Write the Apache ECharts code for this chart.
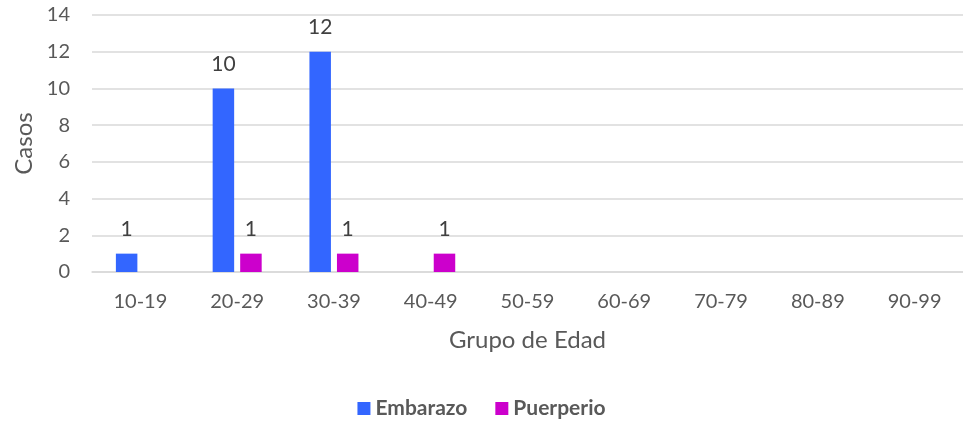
<!DOCTYPE html>
<html>
<head>
<meta charset="utf-8">
<script src="https://cdn.jsdelivr.net/npm/echarts@6/dist/echarts.min.js"></script>
<style>
  html, body { margin: 0; padding: 0; background: #fff; }
  #chart { width: 963px; height: 427px; }
</style>
</head>
<body>
<div id="chart"></div>
<script>
  // grupos de edad y casos por serie
  var grupos = ['10-19', '20-29', '30-39', '40-49', '50-59', '60-69', '70-79', '80-89', '90-99'];
  var embarazo = [1, 10, 12, 0, 0, 0, 0, 0, 0];
  var puerperio = [0, 1, 1, 1, 0, 0, 0, 0, 0];
  var yTicks = [0, 2, 4, 6, 8, 10, 12, 14];

  var font = 'Lato, "Open Sans", sans-serif';
  var txt = '#595959';

  function etiqueta(p) {
    return p.value === 0 ? '' : p.value;
  }

  var myChart = echarts.init(document.getElementById('chart'));
  myChart.setOption({
    animation: false,
    textStyle: { fontFamily: font },
    grid: { left: 92, top: 15, width: 887, height: 257 },
    legend: {
      bottom: 3,
      left: 'center',
      itemWidth: 13,
      itemHeight: 13,
      itemGap: 28,
      icon: 'rect',
      textStyle: { fontFamily: font, fontSize: 21, fontWeight: 'bold', color: txt }
    },
    xAxis: {
      type: 'category',
      data: grupos,
      name: 'Grupo de Edad',
      nameLocation: 'middle',
      nameGap: 56,
      nameTextStyle: { fontFamily: font, fontSize: 24, color: txt },
      axisLine: { lineStyle: { color: '#d9d9d9', width: 1.5 } },
      axisTick: { show: false },
      axisLabel: { fontFamily: font, fontSize: 20, color: txt, margin: 20 }
    },
    yAxis: {
      type: 'value',
      min: yTicks[0],
      max: yTicks[yTicks.length - 1],
      interval: 2,
      name: 'Casos',
      nameLocation: 'middle',
      nameGap: 56,
      nameTextStyle: { fontFamily: font, fontSize: 24, color: txt },
      axisLine: { show: false },
      axisTick: { show: false },
      splitLine: { lineStyle: { color: '#d9d9d9', width: 1.5 } },
      axisLabel: { fontFamily: font, fontSize: 20, color: txt, margin: 22 }
    },
    series: [
      {
        type: 'bar',
        name: 'Embarazo',
        data: embarazo,
        barWidth: 21.5,
        barGap: '28%',
        itemStyle: { color: '#3366ff' },
        label: {
          show: true, position: 'top', distance: 14, formatter: etiqueta,
          fontFamily: font, fontSize: 21, color: '#404040'
        }
      },
      {
        type: 'bar',
        name: 'Puerperio',
        data: puerperio,
        barWidth: 21.5,
        barGap: '28%',
        itemStyle: { color: '#cc00cc' },
        label: {
          show: true, position: 'top', distance: 14, formatter: etiqueta,
          fontFamily: font, fontSize: 21, color: '#404040'
        }
      }
    ]
  });
</script>
</body>
</html>
